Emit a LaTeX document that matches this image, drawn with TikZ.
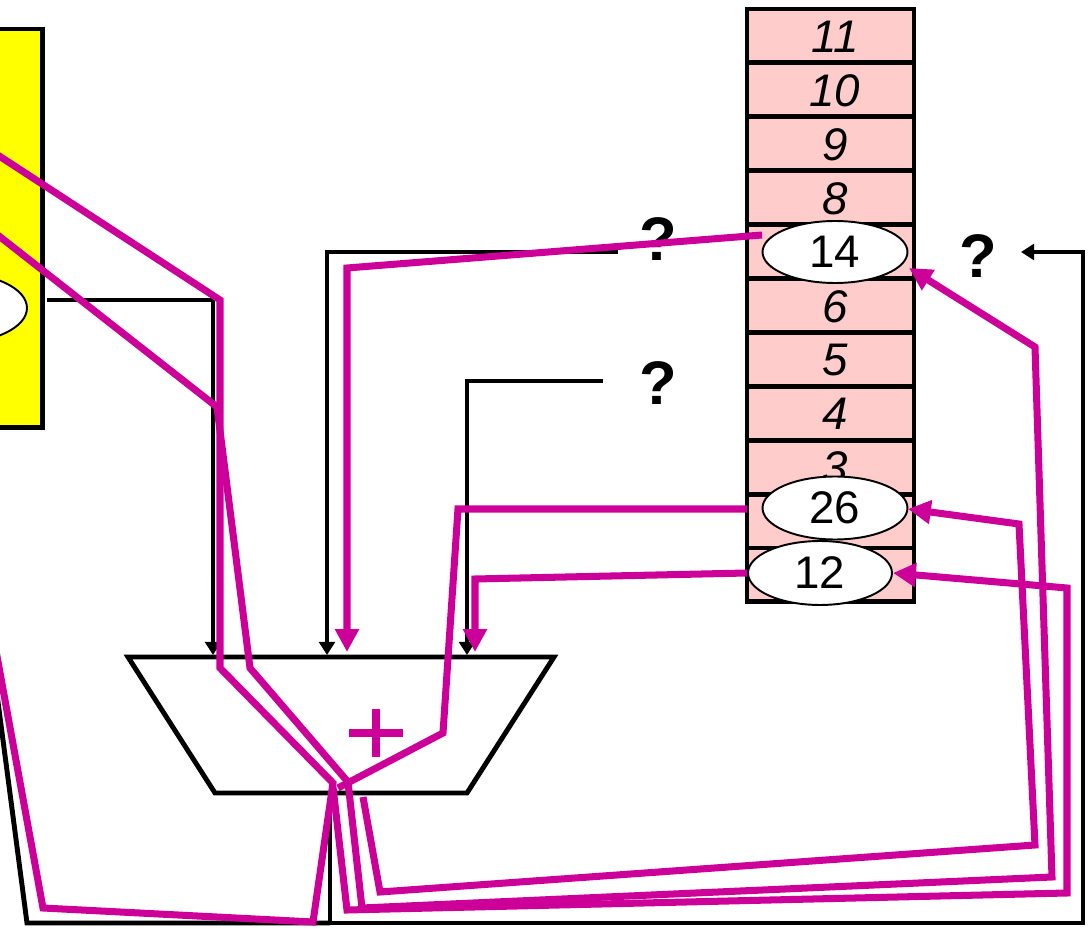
\documentclass[tikz,border=0pt]{standalone}
\usepackage{fontspec}
\setmainfont{Liberation Sans}
\usetikzlibrary{arrows.meta,shapes.geometric}
\definecolor{hot}{RGB}{204,0,153}
\definecolor{regpink}{RGB}{255,204,204}
\definecolor{memyellow}{RGB}{255,255,0}
\begin{document}
\begin{tikzpicture}[x=0.02cm,y=-0.02cm,
  regcell/.style={draw,fill=regpink,line width=2.8pt,minimum width=3.34cm,minimum height=1.078cm,inner sep=0pt},
  reglabel/.style={font=\fontsize{26}{30}\selectfont\itshape,inner sep=0pt},
  regval/.style={ellipse,draw,fill=white,line width=1.1pt,inner sep=0pt,font=\fontsize{26}{30}\selectfont},
  qmark/.style={font=\fontsize{35}{40}\selectfont\bfseries,inner sep=0pt},
  wire/.style={draw=black,line width=2.8pt},
  hotwire/.style={draw=hot,line width=4pt},
  blktip/.style={-{Triangle[length=7.5pt,width=9pt]}},
  hottip/.style={-{Triangle[length=13pt,width=13pt]}},
]
\useasboundingbox (0,0) rectangle (1090,929);
\clip (0,0) rectangle (1090,929);

% instruction memory (left) and its field oval
\node[draw,fill=memyellow,line width=2.8pt,minimum width=1.3cm,minimum height=7.98cm,inner sep=0pt] (imem) at (10,228.5) {};
\node[ellipse,draw,fill=white,line width=1.1pt,minimum width=2.88cm,minimum height=1.4cm,inner sep=0pt] (field) at (-45,308) {};

% register file
\foreach \lab [count=\i from 0] in {11,10,9,8,7,6,5,4,3,2,1}
  \node[regcell] (r\lab) at (830.5,{9+53.9*\i+26.95}) {};
\foreach \lab in {11,10,9,8,6,5,4,3}
  \node[reglabel] at ([xshift=0.09cm,yshift=-0.02cm]r\lab.center) {\lab};

% register contents
\node[regval,minimum width=2.9cm,minimum height=1.24cm] (v14) at (835,252) {14};
\node[regval,minimum width=2.9cm,minimum height=1.26cm] (v26) at (835,508) {26};
\node[regval,minimum width=2.88cm,minimum height=1.28cm] (v12) at (820,573) {12};

% adder
\coordinate (aluTL) at (128,657);
\coordinate (aluTR) at (554,657);
\coordinate (aluBR) at (467,793);
\coordinate (aluBL) at (215,793);
\draw[line width=2.8pt] (aluTL) -- (aluTR) -- (aluBR) -- (aluBL) -- cycle;
\coordinate (aluOut) at (330,793);

% question marks
\node[qmark] (q1) at (658,239) {?};
\node[qmark] (q2) at (658,383) {?};
\node[qmark] (q3) at (978,256) {?};

% black datapath wires
\coordinate (inA) at (213,655);
\coordinate (inB) at (327,655);
\coordinate (inC) at (467,655);
\coordinate (wr) at (1021,252);
\draw[wire,blktip] (47,300) -| (inA);
\draw[wire,blktip] (618,252) -| (inB);
\draw[wire,blktip] (603,381) -| (inC);
\draw[wire,blktip] (aluOut) -- (330,923) -- (1083,923) -- (1083,252) -- (wr);
\draw[wire] (330,923) -- (27,923) -- (-10,641);

% highlighted paths
\draw[hotwire] (-10,150) -- (220,300) -- (220,668) -- (333,783) -- (313,922) -- (43,908) -- (-10,618);
\draw[hotwire,hottip] (-10,229) -- (217,407) -- (250,668) -- (348,782) -- (362,908) -- (1052,877) -- (1035,347) -- (909,268);
\draw[hotwire] (747,509) -- (458,509) -- (443,733) -- (338,788);
\draw[hotwire,hottip] (363,797) -- (380,892) -- (1035,845) -- (1019,524) -- (908,509);
\draw[hotwire,hottip] (333,787) -- (347,910) -- (1067,893) -- (1067,588) -- (893,573);
\draw[hotwire,hottip] (v12.west) -- (475,579) -- (475,652);
\draw[hotwire,hottip] (762,235) -- (347,268) -- (347,652);

% plus sign
\draw[draw=hot,line width=4.6pt] (349,733) -- (403,733) (376,709) -- (376,757);
\end{tikzpicture}
\end{document}
